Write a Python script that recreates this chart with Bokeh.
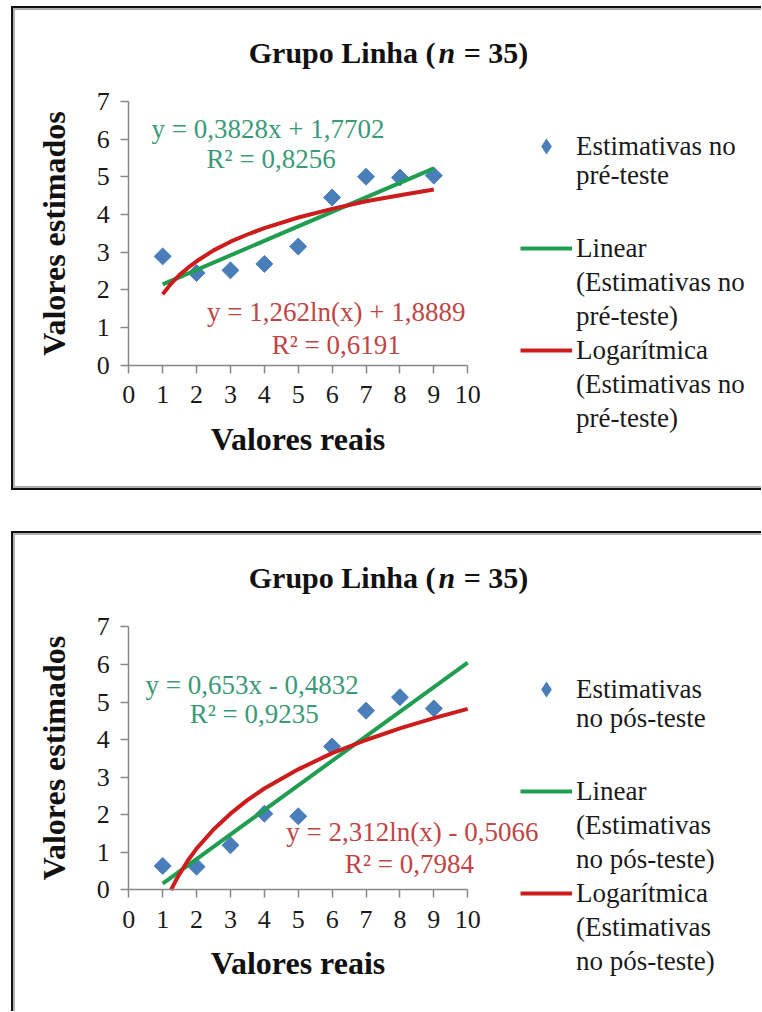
from bokeh.plotting import figure
from bokeh.models import Range1d, FixedTicker, Legend, LegendItem, Label, ColumnDataSource
from bokeh.layouts import column
from bokeh.embed import file_html
from bokeh.resources import INLINE

# ---------------- data ----------------
x_vals = [1, 2, 3, 4, 5, 6, 7, 8, 9]
pre_y = [2.89, 2.45, 2.52, 2.69, 3.15, 4.45, 5.00, 4.98, 5.03]
pos_y = [0.64, 0.62, 1.19, 2.03, 1.96, 3.82, 4.77, 5.13, 4.83]

pre_lin_x = [1, 9]
pre_lin_y = [2.15, 5.22]
pre_log_x = [1, 1.25, 1.5, 1.75, 2, 2.5, 3, 3.5, 4, 5, 6, 7, 8, 9]
pre_log_y = [1.89, 2.17, 2.40, 2.59, 2.76, 3.05, 3.28, 3.47, 3.64, 3.92, 4.15, 4.35, 4.51, 4.66]

pos_lin_x = [1, 10]
pos_lin_y = [0.17, 6.05]
pos_log_x = [1.245, 1.375, 1.5, 1.75, 2, 2.5, 3, 3.5, 4, 5, 6, 7, 8, 9, 10]
pos_log_y = [0.00, 0.23, 0.43, 0.79, 1.10, 1.61, 2.03, 2.39, 2.70, 3.21, 3.64, 3.99, 4.30, 4.57, 4.82]

x_ticks = [0, 1, 2, 3, 4, 5, 6, 7, 8, 9, 10]
y_ticks = [0, 1, 2, 3, 4, 5, 6, 7]

title_parts = ["Grupo Linha (", "n", "= 35)"]
x_title = "Valores reais"
y_title = "Valores estimados"

pre_eqs = ["y = 0,3828x + 1,7702", "R\u00b2 = 0,8256", "y = 1,262ln(x) + 1,8889", "R\u00b2 = 0,6191"]
pos_eqs = ["y = 0,653x - 0,4832", "R\u00b2 = 0,9235", "y = 2,312ln(x) - 0,5066", "R\u00b2 = 0,7984"]

# legend texts, one entry per printed line
pre_leg_pts = ["Estimativas no", "pr\u00e9-teste"]
pre_leg_lin = ["Linear", "(Estimativas no", "pr\u00e9-teste)"]
pre_leg_log = ["Logar\u00edtmica", "(Estimativas no", "pr\u00e9-teste)"]
pos_leg_pts = ["Estimativas", "no p\u00f3s-teste"]
pos_leg_lin = ["Linear", "(Estimativas", "no p\u00f3s-teste)"]
pos_leg_log = ["Logar\u00edtmica", "(Estimativas", "no p\u00f3s-teste)"]

# ---------------- style ----------------
FONT = "Liberation Serif"
BLUE = "#4a7ebb"
GREEN = "#1f9e50"
RED = "#cc1c1c"
GREEN_TXT = "#3a9a78"
RED_TXT = "#c04545"
AXIS = "#878787"
TXT = "#1a1a1a"
W = 750


def style_legend(L, gh):
    L.border_line_color = None
    L.background_fill_alpha = 0
    L.padding = 0
    L.margin = 0
    L.glyph_width = 52
    L.glyph_height = gh
    L.label_height = gh
    L.label_standoff = 4
    L.spacing = 0
    L.label_text_font = FONT
    L.label_text_font_size = "27px"
    L.label_text_color = TXT


def make_chart(y_vals, lin_x, lin_y, log_x, log_y, eqs, eq_pos, leg_pts, leg_lin, leg_log,
               height, yr, box_css, margin, locA, locB, loc2, title_y):
    p = figure(width=W, height=height, x_range=Range1d(-3.402, 18.728), y_range=Range1d(*yr),
               output_backend="svg", toolbar_location=None,
               min_border_left=0, min_border_right=0, min_border_top=0, min_border_bottom=0)
    p.styles = box_css
    p.margin = margin
    p.xgrid.visible = False
    p.ygrid.visible = False
    p.outline_line_color = None
    p.border_fill_color = None
    p.background_fill_color = None

    p.xaxis.ticker = FixedTicker(ticks=x_ticks)
    p.yaxis.ticker = FixedTicker(ticks=y_ticks)
    p.xaxis.bounds = (0, 10)
    p.yaxis.bounds = (0, 7)
    p.xaxis.fixed_location = 0
    p.yaxis.fixed_location = 0
    p.xaxis.axis_label = x_title
    p.yaxis.axis_label = y_title
    for ax in (p.xaxis[0], p.yaxis[0]):
        ax.axis_line_color = AXIS
        ax.axis_line_width = 1.5
        ax.major_tick_line_color = AXIS
        ax.major_tick_line_width = 1.5
        ax.minor_tick_line_color = None
        ax.major_tick_out = 8
        ax.major_tick_in = 0
        ax.major_label_text_font = FONT
        ax.major_label_text_font_size = "26px"
        ax.major_label_text_color = TXT
        ax.axis_label_text_font = FONT
        ax.axis_label_text_font_style = "bold"
        ax.axis_label_text_font_size = "32px"
        ax.axis_label_text_color = "#111111"
    p.xaxis.major_label_standoff = 13
    p.yaxis.major_label_standoff = 11
    p.xaxis.axis_label_standoff = 14
    p.yaxis.axis_label_standoff = 22

    src = ColumnDataSource(dict(x=x_vals, y=y_vals))
    p.scatter("x", "y", source=src, marker="square", size=12, angle=0.785398,
              fill_color=BLUE, line_color=BLUE)
    lin = p.line(lin_x, lin_y, line_color=GREEN, line_width=4)
    lg = p.line(log_x, log_y, line_color=RED, line_width=4, line_join="round")
    # legend key: same points, drawn at zero size in the plot (only the legend shows it)
    key = p.scatter("x", "y", source=src, marker="diamond", size=0,
                    fill_color=BLUE, line_color=None)
    blank = p.scatter("x", "y", source=src, marker="square", size=0,
                      fill_alpha=0, line_alpha=0)

    legA = Legend(items=[LegendItem(label=leg_pts[0], renderers=[key])], location=locA)
    legB = Legend(items=[LegendItem(label=leg_pts[1], renderers=[blank])], location=locB)
    leg2 = Legend(items=[LegendItem(label=leg_lin[0], renderers=[lin]),
                         LegendItem(label=leg_lin[1], renderers=[blank]),
                         LegendItem(label=leg_lin[2], renderers=[blank]),
                         LegendItem(label=leg_log[0], renderers=[lg]),
                         LegendItem(label=leg_log[1], renderers=[blank]),
                         LegendItem(label=leg_log[2], renderers=[blank])], location=loc2)
    style_legend(legA, 40)
    style_legend(legB, 31)
    style_legend(leg2, 34)
    for L in (legA, legB, leg2):
        p.add_layout(L)

    cols = [GREEN_TXT, GREEN_TXT, RED_TXT, RED_TXT]
    for t, (ex, ey), c in zip(eqs, eq_pos, cols):
        p.add_layout(Label(x=ex, y=ey, text=t, text_align="center", text_baseline="middle",
                           text_font=FONT, text_font_size="27px", text_color=c))

    # title in three parts (italic n)
    p.add_layout(Label(x=9.05, y=title_y, text=title_parts[0], text_align="right",
                       text_baseline="middle", text_font=FONT, text_font_style="bold",
                       text_font_size="30px", text_color="#111111"))
    p.add_layout(Label(x=9.14, y=title_y, text=title_parts[1], text_align="left",
                       text_baseline="middle", text_font=FONT, text_font_style="bold italic",
                       text_font_size="30px", text_color="#111111"))
    p.add_layout(Label(x=9.88, y=title_y, text=title_parts[2], text_align="left",
                       text_baseline="middle", text_font=FONT, text_font_style="bold",
                       text_font_size="30px", text_color="#111111"))
    return p


css1 = {"border-top": "2px solid #111", "border-left": "2px solid #111",
        "border-bottom": "2px solid #111",
        "box-shadow": "inset 2px 0 0 #b0b0b0, inset 0 2px 0 #b0b0b0, inset 0 -2px 0 #b0b0b0"}
css2 = {"border-top": "2px solid #111", "border-left": "2px solid #111",
        "box-shadow": "inset 2px 0 0 #b0b0b0, inset 0 2px 0 #b0b0b0"}

p1 = make_chart(pre_y, pre_lin_x, pre_lin_y, pre_log_x, pre_log_y, pre_eqs,
                [(4.11, 6.27), (4.2, 5.47), (6.12, 1.42), (6.12, 0.54)],
                pre_leg_pts, pre_leg_lin, pre_leg_log,
                484, (-3.366, 9.458), css1, (6, 0, 0, 11), (507, 326), (507, 301), (507, 57), 8.28)
p2 = make_chart(pos_y, pos_lin_x, pos_lin_y, pos_log_x, pos_log_y, pos_eqs,
                [(3.64, 5.45), (3.7, 4.68), (8.37, 1.54), (8.28, 0.69)],
                pos_leg_pts, pos_leg_lin, pos_leg_log,
                480, (-3.286, 9.484), css2, (0, 0, 0, 11), (507, 304), (507, 279), (507, 35), 8.31)

layout = column(p1, p2, spacing=41)
open("out.html", "w").write(file_html(layout, INLINE))
